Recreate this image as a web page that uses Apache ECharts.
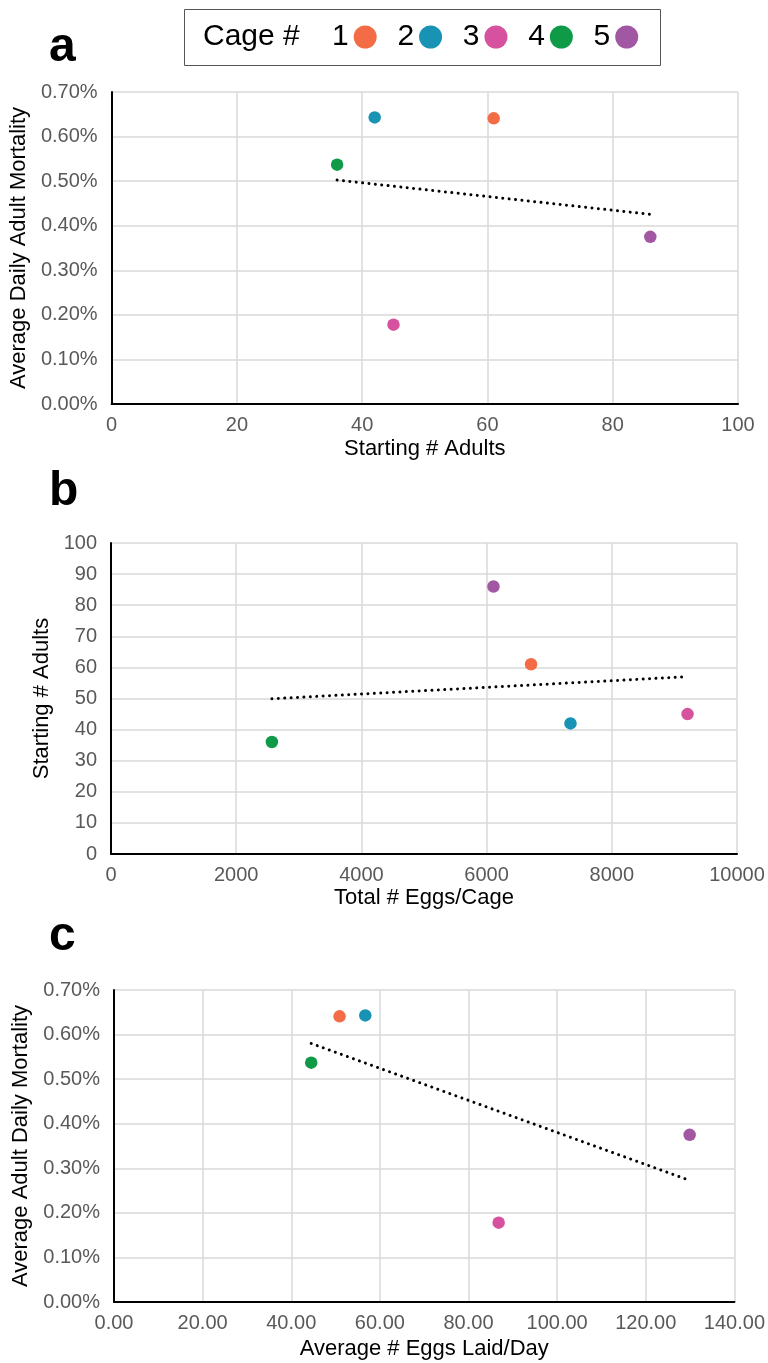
<!DOCTYPE html>
<html>
<head>
<meta charset="utf-8">
<script src="https://cdn.jsdelivr.net/npm/echarts@6/dist/echarts.min.js"></script>
<style>
html,body{margin:0;padding:0;background:#fff;}
#chart{width:768px;height:1363px;}
</style>
</head>
<body>
<div id="chart"></div>
<script>
// ---- Data ----
const cages = ['1', '2', '3', '4', '5'];
const cageColors = ['#F36C45', '#1993B3', '#D6519E', '#0F9A48', '#A257A3'];
const startingAdults = [61, 42, 45, 36, 86];
const mortalityPct = [0.641, 0.643, 0.178, 0.537, 0.375];
const totalEggs = [6710, 7340, 9210, 2570, 6110];
const eggsPerDay = [50.9, 56.7, 86.8, 44.5, 129.9];

const xTicksA = [0, 100, 20];
const yTicksA = [0, 0.7, 0.1];
const xTicksB = [0, 10000, 2000];
const yTicksB = [0, 100, 10];
const xTicksC = [0, 140, 20];
const yTicksC = [0, 0.7, 0.1];

// ---- helpers ----
const FONT = 'Liberation Sans, Arial, Helvetica, sans-serif';

function trend(xs, ys) {
  const n = xs.length;
  const mx = xs.reduce((a, b) => a + b, 0) / n;
  const my = ys.reduce((a, b) => a + b, 0) / n;
  let sxy = 0, sxx = 0;
  for (let i = 0; i < n; i++) { sxy += (xs[i] - mx) * (ys[i] - my); sxx += (xs[i] - mx) * (xs[i] - mx); }
  const k = sxy / sxx, b = my - k * mx;
  const x0 = Math.min(...xs), x1 = Math.max(...xs);
  return [[x0, k * x0 + b], [x1, k * x1 + b]];
}

const grids = [
  { left: 111, top: 92, width: 627, height: 312 },
  { left: 111, top: 543, width: 626, height: 311 },
  { left: 114, top: 990, width: 628, height: 312 }
];

function valAxis(idx, ticks, name, nameGap, fmt, isY) {
  const ax = {
    type: 'value', gridIndex: idx, min: ticks[0], max: ticks[1], interval: ticks[2],
    name: name, nameLocation: 'middle', nameGap: nameGap,
    nameTextStyle: { fontFamily: FONT, fontSize: 22, color: '#000' },
    axisLine: { show: true, onZero: false, lineStyle: { color: '#000', width: 2 } },
    axisTick: { show: false },
    axisLabel: { fontFamily: FONT, fontSize: 20, color: '#595959', margin: isY ? 14 : 11, formatter: fmt },
    splitLine: { show: true, lineStyle: { color: '#d9d9d9', width: 1.5 } }
  };
  if (isY) ax.nameRotate = 90;
  return ax;
}

const pctFmt = v => v.toFixed(2) + '%';
const intFmt = v => String(Math.round(v));
const dec2Fmt = v => v.toFixed(2);

const panels = [
  { xs: startingAdults, ys: mortalityPct },
  { xs: totalEggs, ys: startingAdults },
  { xs: eggsPerDay, ys: mortalityPct }
];

const series = [];
panels.forEach((p, gi) => {
  series.push({
    type: 'line', xAxisIndex: gi, yAxisIndex: gi, data: trend(p.xs, p.ys),
    showSymbol: false, symbol: 'none', silent: true, z: 1,
    lineStyle: { color: '#000', width: 3, type: [0.01, 6.4], cap: 'round' }
  });
  cages.forEach((c, i) => {
    series.push({
      type: 'scatter', name: c, xAxisIndex: gi, yAxisIndex: gi,
      data: [[p.xs[i], p.ys[i]]], symbol: 'circle', symbolSize: 12.5, z: 3,
      itemStyle: { color: cageColors[i], opacity: 1 }
    });
  });
});

const letters = [['a', 48], ['b', 492], ['c', 937]];

const option = {
  backgroundColor: '#fff',
  animation: false,
  grid: grids,
  xAxis: [
    valAxis(0, xTicksA, 'Starting # Adults', 34, intFmt, false),
    valAxis(1, xTicksB, 'Total # Eggs/Cage', 33, intFmt, false),
    valAxis(2, xTicksC, 'Average # Eggs Laid/Day', 36, dec2Fmt, false)
  ],
  yAxis: [
    valAxis(0, yTicksA, 'Average Daily Adult Mortality', 76, pctFmt, true),
    valAxis(1, yTicksB, 'Starting # Adults', 55, intFmt, true),
    valAxis(2, yTicksC, 'Average Adult Daily Mortality', 78, pctFmt, true)
  ],
  legend: {
    data: cages, left: 332, top: 22, padding: 0, orient: 'horizontal', align: 'right',
    icon: 'circle', itemWidth: 23, itemHeight: 23, itemGap: 20.7,
    selectedMode: false,
    textStyle: { fontFamily: FONT, fontSize: 30, color: '#000' }
  },
  graphic: [
    { type: 'rect', left: 182, top: 7, shape: { x: 0, y: 0, width: 476, height: 56 },
      style: { fill: 'none', stroke: '#555', lineWidth: 1 }, z: 0 },
    { type: 'text', x: 203, y: 37,
      style: { text: 'Cage #', font: '30px ' + FONT, fill: '#000', verticalAlign: 'middle', align: 'left' } }
  ].concat(letters.map(l => ({
    type: 'text', x: 49, y: l[1],
    style: { text: l[0], font: 'bold 48px ' + FONT, fill: '#000', verticalAlign: 'middle', align: 'left' }
  }))),
  series: series
};

const chart = echarts.init(document.getElementById('chart'), null, { renderer: 'canvas' });
chart.setOption(option);
</script>
</body>
</html>
